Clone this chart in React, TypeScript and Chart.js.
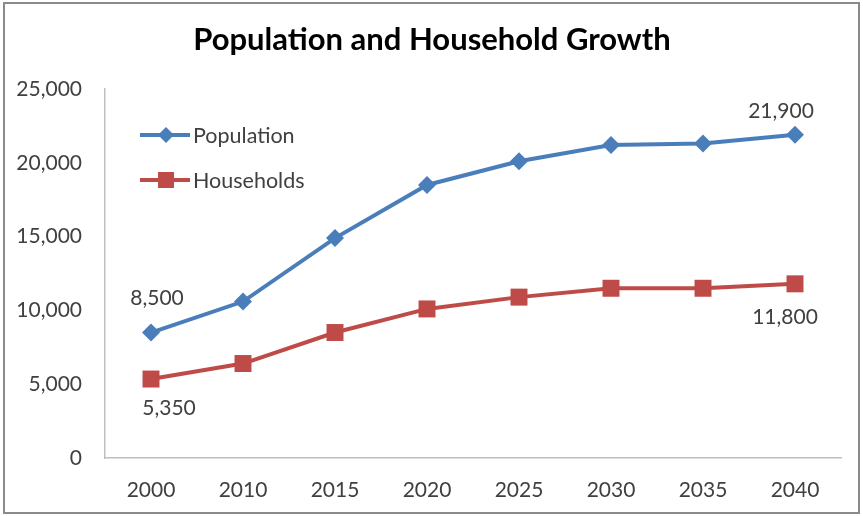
import React, { useEffect, useRef } from "react";
import { Chart, registerables } from "chart.js";

Chart.register(...registerables);

const categories = ["2000", "2010", "2015", "2020", "2025", "2030", "2035", "2040"];
const populationValues = [8500, 10600, 14900, 18500, 20100, 21200, 21300, 21900];
const householdValues = [5350, 6400, 8500, 10100, 10900, 11500, 11500, 11800];
const yTicks = [0, 5000, 10000, 15000, 20000, 25000];
const titleText = "Population and Household Growth";
const seriesNames = ["Population", "Households"];

const BLUE = "#4a7ebb";
const RED = "#be4b48";
const TEXT = "#404040";
const FONT = "Lato, 'Open Sans', sans-serif";

const fmt = (v: number) => v.toLocaleString("en-US");

export default function App() {
  const ref = useRef<HTMLCanvasElement | null>(null);

  useEffect(() => {
    document.body.style.margin = "0";
    const canvas = ref.current!;

    const framePlugin = {
      id: "frame",
      beforeDraw(chart: any) {
        const ctx = chart.ctx;
        ctx.save();
        ctx.fillStyle = "#ffffff";
        ctx.fillRect(0, 0, chart.width, chart.height);
        ctx.strokeStyle = "#8a8a8a";
        ctx.lineWidth = 2;
        ctx.strokeRect(4, 3, 855, 510);
        ctx.fillStyle = "#000000";
        ctx.font = `bold 31px ${FONT}`;
        ctx.textAlign = "center";
        ctx.textBaseline = "alphabetic";
        ctx.fillText(titleText, 432, 50);
        ctx.restore();
      },
    };

    const legendPlugin = {
      id: "insideLegend",
      afterDraw(chart: any) {
        const ctx = chart.ctx;
        const area = chart.chartArea;
        const x0 = area.left + 35;
        const rows = [
          { y: area.top + 46, color: BLUE, style: "diamond" },
          { y: area.top + 91, color: RED, style: "square" },
        ];
        ctx.save();
        rows.forEach((r, i) => {
          ctx.strokeStyle = r.color;
          ctx.lineWidth = 4;
          ctx.beginPath();
          ctx.moveTo(x0, r.y);
          ctx.lineTo(x0 + 50, r.y);
          ctx.stroke();
          ctx.fillStyle = r.color;
          const cx = x0 + 26;
          if (r.style === "diamond") {
            ctx.beginPath();
            ctx.moveTo(cx, r.y - 8);
            ctx.lineTo(cx + 8, r.y);
            ctx.lineTo(cx, r.y + 8);
            ctx.lineTo(cx - 8, r.y);
            ctx.closePath();
            ctx.fill();
          } else {
            ctx.fillRect(cx - 8, r.y - 8, 16, 16);
          }
          ctx.fillStyle = TEXT;
          ctx.font = `21.5px ${FONT}`;
          ctx.textAlign = "left";
          ctx.textBaseline = "middle";
          ctx.fillText(seriesNames[i], x0 + 53, r.y + 1);
        });
        ctx.restore();
      },
    };

    const labelPlugin = {
      id: "endLabels",
      afterDatasetsDraw(chart: any) {
        const ctx = chart.ctx;
        ctx.save();
        ctx.fillStyle = TEXT;
        ctx.font = `21px ${FONT}`;
        ctx.textAlign = "center";
        ctx.textBaseline = "middle";
        const specs = [
          { ds: 0, idx: 0, dx: 6, dy: -34 },
          { ds: 0, idx: categories.length - 1, dx: -14, dy: -24 },
          { ds: 1, idx: 0, dx: 18, dy: 29 },
          { ds: 1, idx: categories.length - 1, dx: -10, dy: 33 },
        ];
        specs.forEach((s) => {
          const pt = chart.getDatasetMeta(s.ds).data[s.idx];
          const v = chart.data.datasets[s.ds].data[s.idx] as number;
          ctx.fillText(fmt(v), pt.x + s.dx, pt.y + s.dy);
        });
        ctx.restore();
      },
    };

    const chart = new Chart(canvas, {
      type: "line",
      data: {
        labels: categories,
        datasets: [
          {
            label: seriesNames[0],
            data: populationValues,
            borderColor: BLUE,
            backgroundColor: BLUE,
            borderWidth: 4,
            pointStyle: "rectRot",
            pointRadius: 9,
            pointBorderWidth: 0,
            pointBackgroundColor: BLUE,
            tension: 0,
          },
          {
            label: seriesNames[1],
            data: householdValues,
            borderColor: RED,
            backgroundColor: RED,
            borderWidth: 4,
            pointStyle: "rect",
            pointRadius: 12,
            pointBorderWidth: 0,
            pointBackgroundColor: RED,
            tension: 0,
          },
        ],
      },
      options: {
        animation: false,
        responsive: false,
        layout: { padding: { left: 0, right: 22, top: 89, bottom: 0 } },
        plugins: {
          legend: { display: false },
          tooltip: { enabled: false },
          title: { display: false },
        },
        scales: {
          x: {
            offset: true,
            grid: { display: false, drawTicks: false },
            border: { display: true, color: "#bfbfbf", width: 1.5 },
            ticks: {
              color: TEXT,
              font: { family: FONT, size: 21 },
              padding: 20,
              maxRotation: 0,
            },
            afterFit(scale: any) {
              scale.height = 58;
            },
          },
          y: {
            min: 0,
            max: 25000,
            grid: { display: false, drawTicks: false },
            border: { display: true, color: "#bfbfbf", width: 1.5 },
            ticks: {
              color: TEXT,
              font: { family: FONT, size: 21 },
              padding: 23,
              stepSize: 5000,
              callback: (v: any) => fmt(Number(v)),
            },
            afterBuildTicks(scale: any) {
              scale.ticks = yTicks.map((v) => ({ value: v }));
            },
            afterFit(scale: any) {
              scale.width = 105;
            },
          },
        },
      },
      plugins: [framePlugin, legendPlugin, labelPlugin],
    });

    return () => chart.destroy();
  }, []);

  return (
    <div style={{ position: "relative", width: 863, height: 516 }}>
      <canvas ref={ref} width={863} height={516} style={{ display: "block" }} />
    </div>
  );
}
